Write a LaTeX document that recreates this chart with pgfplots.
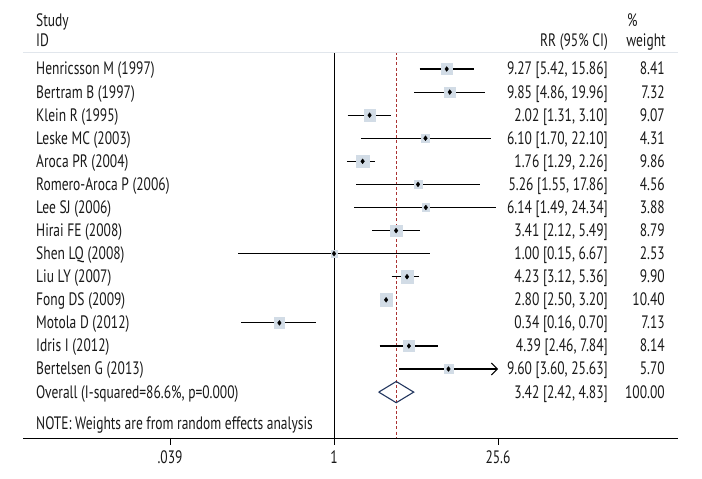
\documentclass[border=0pt]{standalone}
\usepackage{pgfplots}
\pgfplotsset{compat=1.18}
\usepackage{pgfplotstable}
\usepackage{fontspec}
\setmainfont[FakeStretch=0.75]{PT Sans}
\usetikzlibrary{arrows.meta}
\definecolor{boxc}{RGB}{210,220,230}
\definecolor{refred}{RGB}{170,50,50}
\definecolor{navy}{RGB}{35,55,95}
\definecolor{sepc}{RGB}{225,230,236}
\definecolor{txt}{RGB}{25,25,25}

% y = row centre in pixels from top; est, lo, hi, weight
\pgfplotstableread{
y est lo hi w
69.0 9.27 5.42 15.86 8.41
92.1 9.85 4.86 19.96 7.32
115.2 2.02 1.31 3.10 9.07
138.2 6.10 1.70 22.10 4.31
161.3 1.76 1.29 2.26 9.86
184.4 5.26 1.55 17.86 4.56
207.5 6.14 1.49 24.34 3.88
230.6 3.41 2.12 5.49 8.79
253.6 1.00 0.15 6.67 2.53
276.7 4.23 3.12 5.36 9.90
299.8 2.80 2.50 3.20 10.40
322.9 0.34 0.16 0.70 7.13
346.0 4.39 2.46 7.84 8.14
369.0 9.60 3.60 25.63 5.70
}\studies

\begin{document}
\begin{tikzpicture}
\useasboundingbox (0pt,0pt) rectangle (702pt,479pt);
\begin{axis}[
  scale only axis, width=702pt, height=479pt,
  xmode=log, xmin=0.001358, xmax=1441,
  ymin=0, ymax=479, y dir=reverse,
  hide axis, clip=false]
% weight boxes
\addplot[scatter, only marks, mark=square*,
  scatter/use mapped color={draw=boxc, fill=boxc},
  visualization depends on={sqrt(\thisrow{w})*1.95 \as \ms},
  scatter/@pre marker code/.append style={/tikz/mark size=\ms}]
  table[x=est, y=y] {\studies};
% reference lines
\addplot[black, line width=1.0pt] coordinates {(1,52) (1,438)};
\addplot[refred, line width=0.8pt, dash pattern=on 3pt off 2.2pt] coordinates {(3.42,52) (3.42,438)};
% confidence intervals
\addplot[black, line width=1.1pt] coordinates {(5.42,69.0) (15.86,69.0)};
\addplot[black, line width=1.1pt] coordinates {(4.86,92.1) (19.96,92.1)};
\addplot[black, line width=1.1pt] coordinates {(1.31,115.2) (3.10,115.2)};
\addplot[black, line width=1.1pt] coordinates {(1.70,138.2) (22.10,138.2)};
\addplot[black, line width=1.1pt] coordinates {(1.29,161.3) (2.26,161.3)};
\addplot[black, line width=1.1pt] coordinates {(1.55,184.4) (17.86,184.4)};
\addplot[black, line width=1.1pt] coordinates {(1.49,207.5) (24.34,207.5)};
\addplot[black, line width=1.1pt] coordinates {(2.12,230.6) (5.49,230.6)};
\addplot[black, line width=1.1pt] coordinates {(0.15,253.6) (6.67,253.6)};
\addplot[black, line width=1.1pt] coordinates {(3.12,276.7) (5.36,276.7)};
\addplot[black, line width=1.1pt] coordinates {(2.50,299.8) (3.20,299.8)};
\addplot[black, line width=1.1pt] coordinates {(0.16,322.9) (0.70,322.9)};
\addplot[black, line width=1.1pt] coordinates {(2.46,346.0) (7.84,346.0)};
\addplot[black, line width=1.1pt, -{Straight Barb[length=6pt,width=12pt,line width=1.1pt]}] coordinates {(3.60,369.0) (25.6,369.0)};
% point estimates
\addplot[only marks, mark=diamond*, mark size=2.4pt, black] table[x=est, y=y] {\studies};
% overall diamond
\addplot[navy, line width=1.1pt] coordinates {(2.42,392.1) (3.42,381.5) (4.83,392.1) (3.42,402.7) (2.42,392.1)};
\end{axis}
\begin{scope}[every node/.style={font=\fontsize{18}{21}\selectfont, inner sep=0pt, text=txt}]
\draw[sepc, line width=0.8pt] (23pt,427pt) -- (678pt,427pt);
\draw[black, line width=0.9pt] (23pt,41pt) -- (678pt,41pt);
\foreach \px/\lab in {170/.039, 334/1, 498/25.6}{
  \draw[black, line width=0.9pt] (\px pt,41pt) -- (\px pt,34pt);
  \node[anchor=base] at (\px pt,15.7pt) {\lab};
}
\node[anchor=base west] at (36pt,452pt) {Study};
\node[anchor=base west] at (36pt,432.5pt) {ID};
\node[anchor=base east] at (608pt,432.5pt) {RR (95\% CI)};
\node[anchor=base west] at (627pt,452pt) {\%};
\node[anchor=base east] at (666pt,432.5pt) {weight};
\foreach \yy/\name/\rr/\wt in {
 404.0/Henricsson M (1997)/{9.27 [5.42, 15.86]}/8.41,
 380.9/Bertram B (1997)/{9.85 [4.86, 19.96]}/7.32,
 357.8/Klein R (1995)/{2.02 [1.31, 3.10]}/9.07,
 334.8/Leske MC (2003)/{6.10 [1.70, 22.10]}/4.31,
 311.7/Aroca PR (2004)/{1.76 [1.29, 2.26]}/9.86,
 288.6/Romero-Aroca P (2006)/{5.26 [1.55, 17.86]}/4.56,
 265.5/Lee SJ (2006)/{6.14 [1.49, 24.34]}/3.88,
 242.4/Hirai FE (2008)/{3.41 [2.12, 5.49]}/8.79,
 219.4/Shen LQ (2008)/{1.00 [0.15, 6.67]}/2.53,
 196.3/Liu LY (2007)/{4.23 [3.12, 5.36]}/9.90,
 173.2/Fong DS (2009)/{2.80 [2.50, 3.20]}/10.40,
 150.1/Motola D (2012)/{0.34 [0.16, 0.70]}/7.13,
 127.0/Idris I (2012)/{4.39 [2.46, 7.84]}/8.14,
 104.0/Bertelsen G (2013)/{9.60 [3.60, 25.63]}/5.70,
 80.9/{Overall (I-squared=86.6\%, p=0.000)}/{3.42 [2.42, 4.83]}/100.00}{
  \node[anchor=base west] at (36pt,\yy pt) {\name};
  \node[anchor=base east] at (608pt,\yy pt) {\rr};
  \node[anchor=base east] at (665pt,\yy pt) {\wt};
}
\node[anchor=base west] at (36pt,49pt) {NOTE: Weights are from random effects analysis};
\end{scope}
\end{tikzpicture}
\end{document}
